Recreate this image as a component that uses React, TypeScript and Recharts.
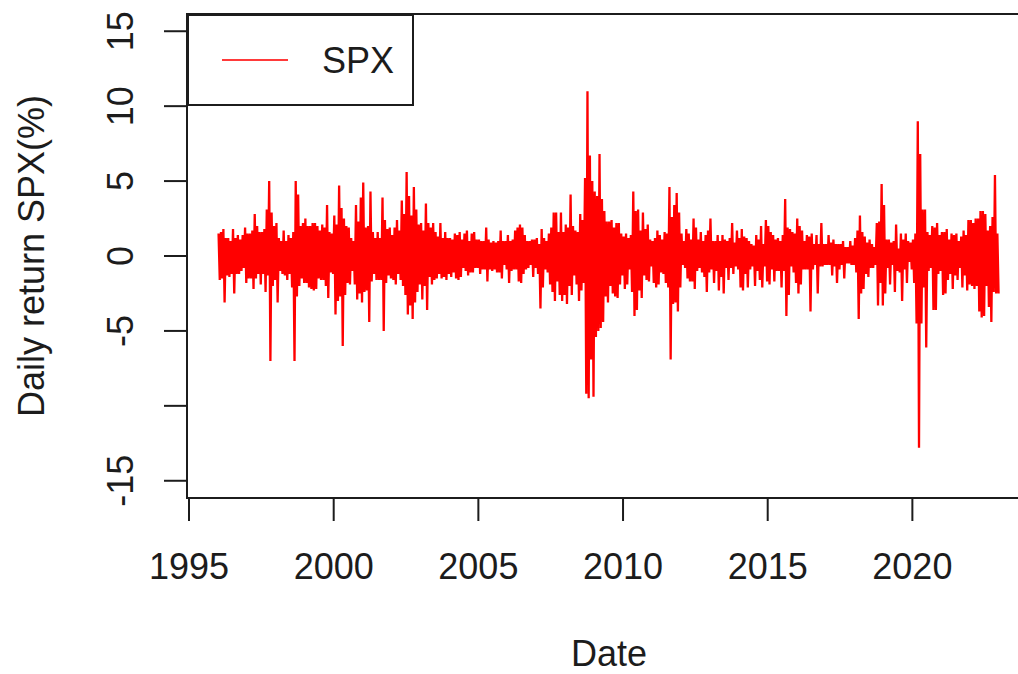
import { LineChart, Line, XAxis, YAxis, ReferenceArea, Legend, Label } from 'recharts';

const FONT = '"Liberation Sans", Arial, Helvetica, sans-serif';
const INK = '#1c1c1c';

// monthly high / low of the daily return (%), Jan..Dec
const r1996 = [1.5, -1.6, 1.6, -1.5, 1.8, -3.1, 1.2, -1.3, 1.2, -1.4, 1.0, -1.2, 1.8, -2.5, 1.2, -1.2, 1.4, -1.2, 1.1, -1.0, 1.4, -0.8, 1.9, -1.8];
const r1997 = [1.5, -1.5, 1.5, -1.5, 1.7, -2.2, 2.8, -1.5, 2.0, -1.2, 1.6, -1.9, 1.6, -1.2, 1.8, -2.4, 3.1, -1.3, 5.0, -7.0, 2.9, -2.0, 2.0, -1.6];
const r1998 = [2.2, -3.1, 1.2, -1.0, 1.0, -1.2, 1.7, -1.3, 1.0, -1.6, 1.4, -1.2, 1.2, -2.1, 1.6, -7.0, 5.0, -2.7, 4.1, -2.0, 2.0, -1.5, 2.2, -1.8];
const r1999 = [2.5, -1.8, 2.0, -2.1, 2.0, -2.2, 2.2, -2.3, 2.2, -2.2, 2.0, -1.5, 1.7, -1.6, 2.1, -1.6, 1.9, -2.0, 3.4, -2.8, 1.6, -1.1, 1.5, -1.2];
const r2000 = [2.7, -3.9, 2.1, -3.0, 4.7, -2.7, 3.2, -6.0, 2.5, -2.6, 2.0, -1.8, 1.9, -1.9, 1.2, -1.0, 1.0, -1.9, 3.4, -2.9, 2.3, -2.5, 3.9, -3.1];
const r2001 = [4.9, -2.4, 1.9, -2.3, 2.0, -4.4, 4.3, -1.7, 1.6, -1.2, 1.2, -1.6, 1.6, -1.6, 1.2, -1.6, 3.9, -5.0, 2.4, -1.8, 1.8, -1.3, 1.9, -1.5];
const r2002 = [1.4, -1.6, 1.9, -1.9, 2.4, -1.2, 1.7, -1.6, 3.7, -2.0, 2.8, -2.6, 5.6, -3.9, 4.0, -3.3, 2.7, -4.2, 4.6, -3.1, 3.1, -2.4, 2.1, -1.9];
const r2003 = [2.2, -2.9, 1.7, -2.0, 3.5, -3.6, 2.2, -1.4, 1.9, -1.9, 2.2, -1.6, 1.6, -1.5, 1.3, -1.2, 2.2, -1.5, 1.2, -1.4, 1.6, -1.6, 1.2, -1.2];
const r2004 = [1.2, -1.4, 1.1, -1.1, 1.5, -1.5, 1.4, -1.6, 1.6, -1.4, 1.1, -0.8, 1.5, -1.0, 1.7, -1.3, 1.0, -1.1, 1.5, -1.1, 1.6, -0.8, 1.1, -0.8];
const r2005 = [1.1, -1.2, 1.0, -0.9, 1.0, -0.9, 1.9, -1.7, 1.1, -0.9, 0.9, -1.0, 1.0, -0.9, 0.9, -1.1, 1.0, -1.1, 1.7, -1.5, 1.0, -0.6, 1.0, -0.9];
const r2006 = [1.4, -1.8, 1.0, -1.0, 1.1, -0.9, 1.7, -0.9, 1.9, -1.7, 2.1, -1.8, 1.9, -1.2, 1.4, -0.9, 1.0, -0.8, 1.0, -0.6, 1.1, -1.4, 1.1, -0.8];
const r2007 = [1.2, -1.2, 0.8, -3.5, 1.8, -2.1, 1.2, -0.9, 1.0, -1.1, 1.5, -1.9, 1.9, -2.4, 2.9, -3.0, 2.9, -1.7, 1.6, -2.6, 2.9, -3.0, 1.6, -2.6];
const r2008 = [2.1, -3.2, 1.9, -2.0, 4.1, -2.6, 2.0, -1.3, 1.7, -1.9, 1.6, -3.0, 2.8, -2.3, 2.4, -1.8, 5.2, -9.2, 11.0, -9.5, 6.7, -6.9, 5.0, -9.4];
const r2009 = [4.3, -5.4, 4.0, -5.0, 6.8, -4.8, 3.8, -4.4, 3.0, -2.7, 2.3, -3.1, 2.3, -2.0, 2.4, -2.5, 1.9, -2.7, 2.2, -2.8, 2.2, -1.9, 1.5, -1.3];
const r2010 = [1.3, -2.2, 1.5, -1.9, 1.2, -0.9, 1.4, -2.4, 4.3, -4.0, 3.0, -3.6, 3.1, -2.3, 1.7, -2.8, 2.9, -1.3, 1.8, -1.6, 2.1, -1.7, 1.1, -0.7];
const r2011 = [1.0, -1.8, 1.2, -2.1, 1.7, -1.9, 1.4, -1.1, 1.1, -1.2, 1.6, -1.8, 1.5, -2.1, 4.6, -6.9, 2.6, -3.2, 3.4, -3.1, 4.2, -3.7, 2.9, -2.1];
const r2012 = [1.5, -0.6, 1.0, -0.8, 1.8, -1.5, 1.5, -1.7, 1.1, -1.7, 2.5, -2.2, 1.9, -1.0, 1.1, -0.8, 1.6, -1.1, 1.0, -1.4, 1.4, -2.4, 1.7, -1.1];
const r2013 = [2.5, -0.9, 1.0, -1.8, 1.0, -1.0, 1.4, -2.3, 1.0, -1.4, 1.4, -2.5, 1.1, -0.8, 1.0, -1.6, 1.2, -0.8, 2.2, -1.2, 0.9, -0.7, 1.7, -0.9];
const r2014 = [1.2, -2.1, 1.8, -2.3, 1.3, -1.2, 1.2, -2.1, 1.0, -0.9, 0.8, -0.7, 0.7, -2.0, 1.4, -1.0, 1.1, -1.6, 2.0, -2.1, 0.8, -0.7, 2.4, -1.7];
const r2015 = [2.0, -1.9, 1.6, -0.9, 1.4, -1.7, 1.1, -1.0, 1.2, -1.0, 1.0, -2.1, 1.4, -1.0, 3.8, -4.0, 1.9, -2.6, 1.8, -0.7, 1.6, -1.1, 1.5, -1.8];
const r2016 = [2.5, -2.5, 2.0, -1.9, 1.7, -0.9, 1.0, -0.9, 1.4, -0.9, 1.3, -3.7, 1.5, -0.9, 0.8, -0.6, 1.4, -2.5, 0.8, -0.7, 2.2, -0.7, 0.8, -0.6];
const r2017 = [0.8, -0.6, 1.4, -0.6, 0.9, -1.3, 1.1, -0.7, 0.8, -1.8, 0.8, -0.9, 0.8, -0.6, 1.0, -1.5, 0.6, -0.5, 0.6, -0.5, 1.0, -0.6, 0.7, -0.6];
const r2018 = [1.2, -1.1, 1.7, -4.2, 2.7, -2.5, 1.6, -2.2, 1.3, -1.2, 0.9, -1.4, 1.1, -0.8, 0.8, -0.8, 0.6, -0.6, 2.2, -3.3, 2.3, -1.8, 4.8, -3.3];
const r2019 = [3.4, -2.5, 1.1, -0.8, 1.1, -1.9, 0.9, -0.6, 1.0, -2.4, 2.1, -1.0, 0.5, -1.1, 1.5, -3.0, 1.1, -0.9, 1.5, -1.8, 1.0, -0.4, 0.9, -0.9];
const r2020 = [1.1, -1.8, 1.5, -4.5, 9.0, -12.8, 6.8, -4.5, 3.1, -2.1, 3.1, -6.1, 1.6, -1.0, 1.4, -0.8, 2.0, -3.6, 1.9, -3.6, 2.2, -1.2, 1.4, -1.0];
const r2021 = [1.6, -2.6, 1.6, -2.5, 1.8, -1.6, 1.1, -1.2, 1.5, -2.2, 1.4, -1.3, 1.5, -1.6, 1.0, -0.8, 1.3, -2.1, 1.7, -1.3, 1.4, -2.3, 2.4, -1.9];
const r2022 = [2.4, -2.0, 2.2, -2.2, 2.5, -2.0, 2.5, -3.7, 3.0, -4.1, 3.0, -4.0, 2.8, -2.0, 1.7, -3.4, 2.0, -4.4, 2.6, -2.4, 5.4, -2.5, 1.5, -2.5];

const YEARS: [number, number[]][] = [
  [1996, r1996], [1997, r1997], [1998, r1998], [1999, r1999], [2000, r2000], [2001, r2001],
  [2002, r2002], [2003, r2003], [2004, r2004], [2005, r2005], [2006, r2006], [2007, r2007],
  [2008, r2008], [2009, r2009], [2010, r2010], [2011, r2011], [2012, r2012], [2013, r2013],
  [2014, r2014], [2015, r2015], [2016, r2016], [2017, r2017], [2018, r2018], [2019, r2019],
  [2020, r2020], [2021, r2021], [2022, r2022],
];

const X_TICKS = [1995, 2000, 2005, 2010, 2015, 2020];
const Y_TICKS = [-15, -10, -5, 0, 5, 10, 15];
const Y_LABELLED = [15, 10, 5, 0, -5, -15]; // R drops the -10 label

const X_DOMAIN = [1994.93, 2024.1];
const Y_DOMAIN = [-16.15, 16.15];

const data = YEARS.flatMap(([year, vals]) =>
  vals.map((r, i) => ({ t: year + (i + 0.5) / vals.length, r }))
);

const textStyle = { fontFamily: FONT, fontSize: 36, fill: INK };

const YTick = ({ y, payload }: any) => (
  <text transform={`translate(133, ${y}) rotate(-90)`} textAnchor="middle" {...textStyle}>
    {Y_LABELLED.includes(payload.value) ? String(payload.value) : ''}
  </text>
);

const XTick = ({ x, payload }: any) => (
  <text x={x} y={579} textAnchor="middle" {...textStyle}>
    {payload.value}
  </text>
);

const LegendBox = () => (
  <svg width={227} height={92} style={{ display: 'block' }}>
    <rect x={1} y={1} width={225} height={90} fill="#fff" stroke={INK} strokeWidth={2} />
    <line x1={35} x2={101} y1={46} y2={46} stroke="#ff3a3a" strokeWidth={2} />
    <text x={135} y={59} {...textStyle}>SPX</text>
  </svg>
);

export default function App() {
  return (
    <div style={{ position: 'absolute', left: 0, top: 0, width: 1018, height: 674, overflow: 'hidden', background: '#fff' }}>
      <LineChart width={1045} height={674} data={data} margin={{ top: 14, right: 14, bottom: 0, left: 0 }}>
        <XAxis
          dataKey="t"
          type="number"
          domain={X_DOMAIN}
          ticks={X_TICKS}
          interval={0}
          height={176}
          axisLine={false}
          tickSize={23}
          tickLine={{ stroke: INK, strokeWidth: 2 }}
          tick={<XTick />}
        >
          <Label content={() => <text x={609} y={666} textAnchor="middle" {...textStyle}>Date</text>} />
        </XAxis>
        <YAxis
          type="number"
          domain={Y_DOMAIN}
          ticks={Y_TICKS}
          interval={0}
          width={187}
          axisLine={false}
          allowDataOverflow
          tickSize={23}
          tickLine={{ stroke: INK, strokeWidth: 2 }}
          tick={<YTick />}
        >
          <Label
            content={() => (
              <text transform="translate(44, 256) rotate(-90)" textAnchor="middle" {...textStyle}>
                Daily return SPX(%)
              </text>
            )}
          />
        </YAxis>
        <ReferenceArea
          x1={X_DOMAIN[0]}
          x2={X_DOMAIN[1]}
          y1={Y_DOMAIN[0]}
          y2={Y_DOMAIN[1]}
          fill="none"
          stroke={INK}
          strokeWidth={2}
          ifOverflow="visible"
        />
        <Line type="linear" dataKey="r" stroke="#ff0000" strokeWidth={2.3} dot={false} isAnimationActive={false} />
        <Legend
          layout="vertical"
          align="center"
          verticalAlign="middle"
          wrapperStyle={{ left: 187, top: 14, width: 227, height: 92 }}
          content={() => <LegendBox />}
        />
      </LineChart>
    </div>
  );
}
